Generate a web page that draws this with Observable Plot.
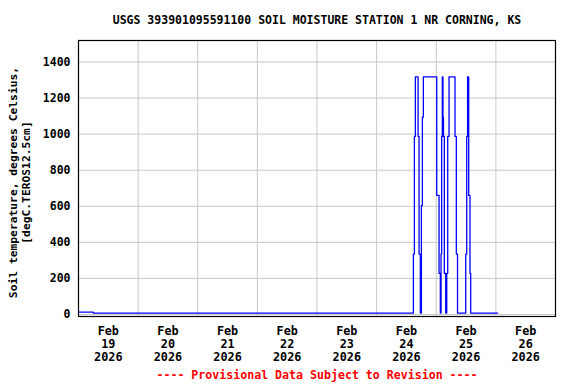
<!DOCTYPE html>
<html>
<head>
<meta charset="utf-8">
<script src="https://cdn.jsdelivr.net/npm/d3@7"></script>
<script src="https://cdn.jsdelivr.net/npm/@observablehq/plot@0.6"></script>
<style>
  html, body { margin: 0; padding: 0; background: #ffffff; }
</style>
</head>
<body>
<div id="chart"></div>
<script>
// ---- Data ----
const times = [
  "2026-02-19T00:00Z", "2026-02-19T06:00Z",
  "2026-02-24T14:48Z", "2026-02-24T15:12Z", "2026-02-24T15:36Z",
  "2026-02-24T16:41Z", "2026-02-24T17:05Z", "2026-02-24T17:36Z",
  "2026-02-24T18:01Z", "2026-02-24T18:25Z", "2026-02-24T18:49Z",
  "2026-02-25T00:12Z", "2026-02-25T01:08Z", "2026-02-25T01:39Z",
  "2026-02-25T01:56Z", "2026-02-25T02:10Z", "2026-02-25T02:27Z",
  "2026-02-25T02:42Z", "2026-02-25T02:54Z", "2026-02-25T03:15Z",
  "2026-02-25T03:49Z", "2026-02-25T04:13Z", "2026-02-25T04:37Z",
  "2026-02-25T05:09Z", "2026-02-25T07:33Z", "2026-02-25T08:05Z",
  "2026-02-25T08:34Z", "2026-02-25T11:52Z", "2026-02-25T12:16Z",
  "2026-02-25T12:37Z", "2026-02-25T13:04Z", "2026-02-25T13:35Z",
  "2026-02-25T13:52Z", "2026-02-26T00:44Z"
];
const values = [
  13, 8,
  335, 987, 1317,
  987, 335, 8,
  604, 1094, 1317,
  660, 228, 8,
  335, 987, 1317,
  1094, 987, 228,
  8, 228, 987,
  1317, 987, 335,
  8, 335, 987,
  1317, 660, 228,
  8, 8
];
const dayLabelTimes = [
  "2026-02-19T12:00Z", "2026-02-20T12:00Z", "2026-02-21T12:00Z", "2026-02-22T12:00Z",
  "2026-02-23T12:00Z", "2026-02-24T12:00Z", "2026-02-25T12:00Z", "2026-02-26T12:00Z"
];
const dayGridTimes = [
  "2026-02-20T00:00Z", "2026-02-21T00:00Z", "2026-02-22T00:00Z", "2026-02-23T00:00Z",
  "2026-02-24T00:00Z", "2026-02-25T00:00Z", "2026-02-26T00:00Z"
];
const xDomain = ["2026-02-19T00:00Z", "2026-02-27T00:00Z"];
const yTicks = [0, 200, 400, 600, 800, 1000, 1200, 1400];
const titleText = "USGS 393901095591100 SOIL MOISTURE STATION 1 NR CORNING, KS";
const yLabelLines = ["Soil temperature, degrees Celsius,", "[degC.TEROS12.5cm]"];
const captionText = "---- Provisional Data Subject to Revision ----";

// ---- Build ----
const data = times.map((t, i) => ({date: new Date(t), value: values[i]}));
const fmt = d3.utcFormat("%b\n%d\n%Y");
const font = "'DejaVu Sans Mono', 'Liberation Mono', monospace";

const chart = Plot.plot({
  width: 576,
  height: 384,
  marginTop: 40,
  marginBottom: 68,
  marginLeft: 78,
  marginRight: 21,
  style: {fontFamily: font, fontWeight: "bold", fontSize: "11.5px", background: "#ffffff", color: "black"},
  x: {type: "utc", domain: xDomain.map(d => new Date(d))},
  y: {domain: [-11, 1519]},
  marks: [
    Plot.gridY(yTicks, {stroke: "#c8c8c8", strokeOpacity: 1, strokeWidth: 1}),
    Plot.ruleX(dayGridTimes.map(d => new Date(d)), {stroke: "#c8c8c8", strokeWidth: 1}),
    Plot.line(data, {x: "date", y: "value", stroke: "#0000ff", strokeWidth: 1.3, curve: "step-after"}),
    Plot.frame({stroke: "black", strokeWidth: 1.2}),
    Plot.axisY(yTicks, {tickSize: 0, tickPadding: 8, label: null, tickFormat: d3.format("d"), fontSize: 11.5, fontWeight: "bold"}),
    Plot.axisX(dayLabelTimes.map(d => new Date(d)), {
      tickSize: 0, tickPadding: 9.5, tickFormat: fmt, label: null,
      lineHeight: 1.1, fontSize: 11.8, fontWeight: "bold"
    }),
    Plot.text([titleText], {frameAnchor: "top", lineAnchor: "middle", dy: -20, fontSize: 11.5, fontWeight: "bold", fill: "black"}),
    Plot.text([yLabelLines.join("\n")], {
      frameAnchor: "left", textAnchor: "middle", lineAnchor: "middle", rotate: -90, dx: -59, dy: 4,
      fontSize: 11.3, fontWeight: "bold", lineHeight: 1.15, fill: "black"
    }),
    Plot.text([captionText], {frameAnchor: "bottom", lineAnchor: "middle", dy: 59, fontSize: 11.6, fontWeight: "bold", fill: "#ff0000"})
  ]
});
document.getElementById("chart").appendChild(chart);
</script>
</body>
</html>
